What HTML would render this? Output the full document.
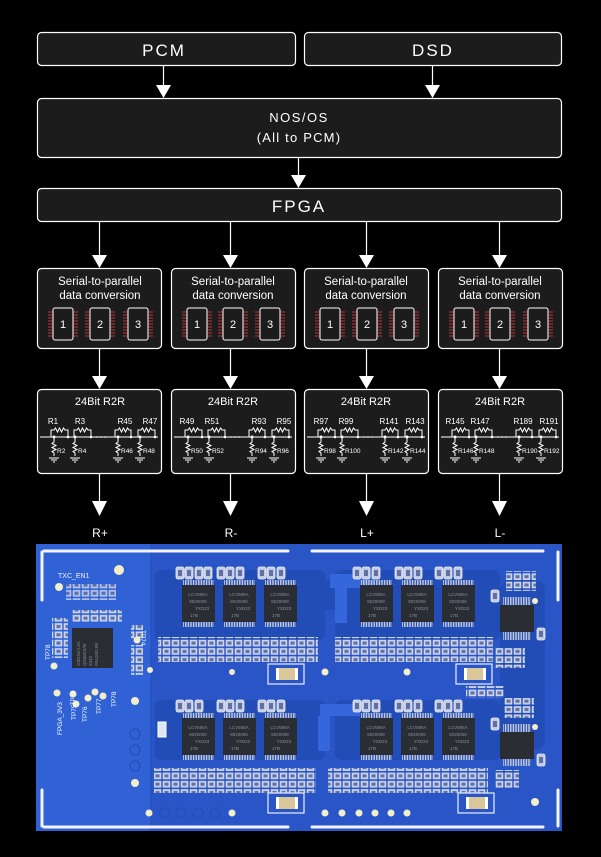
<!DOCTYPE html>
<html><head><meta charset="utf-8"><style>
html,body{margin:0;padding:0;background:#000;}
svg{display:block;}
text{font-family:"Liberation Sans","DejaVu Sans",sans-serif;fill:#fff;}
</style></head><body>
<svg width="601" height="857" viewBox="0 0 601 857" xmlns="http://www.w3.org/2000/svg">
<defs>
  <symbol id="ic" overflow="visible">
    <g stroke="#b8323c" stroke-width="1">
      <path d="M-5,4h5M-5,7h5M-5,10h5M-5,13h5M-5,16h5M-5,19h5M-5,22h5M-5,25h5M-5,28h5"/>
      <path d="M20,4h5M20,7h5M20,10h5M20,13h5M20,16h5M20,19h5M20,22h5M20,25h5M20,28h5"/>
    </g>
    <rect x="0" y="0" width="20" height="32" rx="2" fill="#1c1c1c" stroke="#fff" stroke-width="1"/>
  </symbol>
  <symbol id="r2r" overflow="visible">
    <g stroke="#fff" stroke-width="1" fill="none">
      <path d="M3,437H121"/>
      <path d="M14,437v-7h3l1.5,-2l2,4l2,-4l2,4l2,-4l1.5,2h3v7"/>
      <path d="M37,437v-7h3l1.5,-2l2,4l2,-4l2,4l2,-4l1.5,2h3v7"/>
      <path d="M78,437v-7h3l1.5,-2l2,4l2,-4l2,4l2,-4l1.5,2h2v7"/>
      <path d="M101,437v-7h3l1.5,-2l2,4l2,-4l2,4l2,-4l1.5,2h3v7"/>
      <path d="M17,437v5l-2,1.5l4,2l-4,2l4,2l-4,2l2,1.5v3M12,458h10M14,460h6M16,462h2"/>
      <path d="M38,437v5l-2,1.5l4,2l-4,2l4,2l-4,2l2,1.5v3M33,458h10M35,460h6M37,462h2"/>
      <path d="M81,437v5l-2,1.5l4,2l-4,2l4,2l-4,2l2,1.5v3M76,458h10M78,460h6M80,462h2"/>
      <path d="M103,437v5l-2,1.5l4,2l-4,2l4,2l-4,2l2,1.5v3M98,458h10M100,460h6M102,462h2"/>
    </g>
    <g fill="#fff"><circle cx="17" cy="437" r="1.5"/><circle cx="38" cy="437" r="1.5"/><circle cx="81" cy="437" r="1.5"/><circle cx="103" cy="437" r="1.5"/>
    <circle cx="31" cy="437" r="1.3"/><circle cx="54" cy="437" r="1.3"/><circle cx="94" cy="437" r="1.3"/><circle cx="118" cy="437" r="1.3"/>
    <circle cx="60" cy="437" r="0.8"/><circle cx="64" cy="437" r="0.8"/><circle cx="68" cy="437" r="0.8"/></g>
  </symbol>
  <pattern id="pads" width="9" height="8.3" patternUnits="userSpaceOnUse">
    <rect x="1" y="1" width="7" height="6" fill="#c4cbe0" stroke="#e8ecf6" stroke-width="0.5"/>
    <rect x="2.5" y="2.5" width="4" height="3" fill="#5f70a6"/>
  </pattern>
  <pattern id="pins" width="2.6" height="6" patternUnits="userSpaceOnUse">
    <rect x="0.5" y="0" width="1.4" height="6" fill="#c9cdd6"/>
  </pattern>
  <symbol id="bchip" overflow="visible">
    <rect x="1" y="-5" width="31" height="5" fill="url(#pins)"/>
    <rect x="1" y="37" width="31" height="5" fill="url(#pins)"/>
    <rect x="0" y="0" width="33" height="37" fill="#2b2d35"/>
    <text x="16" y="11" font-size="4.5" style="fill:#8a8d98" text-anchor="middle">LCV595A</text>
    <text x="16" y="18" font-size="4.5" style="fill:#8a8d98" text-anchor="middle">8020008</text>
    <text x="20" y="25" font-size="4.5" style="fill:#8a8d98" text-anchor="middle">YXD23</text>
    <text x="12" y="32" font-size="4.5" style="fill:#8a8d98" text-anchor="middle">17B</text>
  </symbol>
  <symbol id="smd" overflow="visible">
    <rect x="0" y="0" width="8" height="12" rx="2" fill="#c4cbe0" stroke="#e8ecf6" stroke-width="0.8"/>
    <rect x="2" y="3" width="4" height="6" fill="#5f70a6"/>
  </symbol>
  <symbol id="btn" overflow="visible">
    <rect x="0" y="0" width="36" height="20" fill="none" stroke="#e8ecf5" stroke-width="1.2"/>
    <rect x="8" y="4" width="22" height="12" fill="#fff"/>
    <rect x="11" y="4" width="16" height="12" fill="#d9c79a"/>
  </symbol>
</defs>

<g stroke="#fff" stroke-width="1.2" fill="#1c1c1c">
  <rect x="37.5" y="32.5" width="258" height="33" rx="4"/>
  <rect x="304.5" y="32.5" width="257" height="33" rx="4"/>
  <rect x="37.5" y="98.5" width="524" height="59" rx="4"/>
  <rect x="37.5" y="188.5" width="524" height="33" rx="4"/>
</g>
<text x="164" y="56" font-size="17" text-anchor="middle" letter-spacing="2">PCM</text>
<text x="433" y="56" font-size="17" text-anchor="middle" letter-spacing="2">DSD</text>
<text x="299" y="122" font-size="13" text-anchor="middle" letter-spacing="1.5">NOS/OS</text>
<text x="299" y="142" font-size="13" text-anchor="middle" letter-spacing="1.2">(All to PCM)</text>
<text x="299" y="212" font-size="17" text-anchor="middle" letter-spacing="2">FPGA</text>

<g stroke="#fff" stroke-width="1.2">
  <path d="M163.5,66v20M432.5,66v20M298.5,158v18M99.5,222v34M230.5,222v34M366.5,222v34M499.5,222v34"/>
  <path d="M99.5,349v28M230.5,349v28M366.5,349v28M499.5,349v28"/>
  <path d="M99.5,474v28M230.5,474v28M366.5,474v28M499.5,474v28"/>
</g>
<g fill="#fff">
  <path d="M156,85h15l-7.5,13z"/><path d="M425,85h15l-7.5,13z"/>
  <path d="M291,175h15l-7.5,13z"/>
  <path d="M92,255h15l-7.5,13z"/><path d="M223,255h15l-7.5,13z"/><path d="M359,255h15l-7.5,13z"/><path d="M492,255h15l-7.5,13z"/>
  <path d="M92,376h15l-7.5,13z"/><path d="M223,376h15l-7.5,13z"/><path d="M359,376h15l-7.5,13z"/><path d="M492,376h15l-7.5,13z"/>
  <path d="M92,501h15l-7.5,15z"/><path d="M223,501h15l-7.5,15z"/><path d="M359,501h15l-7.5,15z"/><path d="M492,501h15l-7.5,15z"/>
</g>
<g font-size="12" text-anchor="middle">
  <text x="100" y="537">R+</text><text x="231" y="537">R-</text><text x="367" y="537">L+</text><text x="500" y="537">L-</text>
</g>

<g stroke="#fff" stroke-width="1.2" fill="#1c1c1c">
  <rect x="37.5" y="268.5" width="124" height="80" rx="4"/>
  <rect x="171.5" y="268.5" width="124" height="80" rx="4"/>
  <rect x="304.5" y="268.5" width="124" height="80" rx="4"/>
  <rect x="438.5" y="268.5" width="124" height="80" rx="4"/>
</g>
<g font-size="11.5" text-anchor="middle">
  <text x="100" y="285">Serial-to-parallel</text><text x="100" y="299">data conversion</text>
  <text x="233" y="285">Serial-to-parallel</text><text x="233" y="299">data conversion</text>
  <text x="366" y="285">Serial-to-parallel</text><text x="366" y="299">data conversion</text>
  <text x="500" y="285">Serial-to-parallel</text><text x="500" y="299">data conversion</text>
</g>
<g>
  <use href="#ic" x="53" y="308"/><use href="#ic" x="90" y="308"/><use href="#ic" x="128" y="308"/>
  <use href="#ic" x="187" y="308"/><use href="#ic" x="223" y="308"/><use href="#ic" x="260" y="308"/>
  <use href="#ic" x="320" y="308"/><use href="#ic" x="357" y="308"/><use href="#ic" x="394" y="308"/>
  <use href="#ic" x="454" y="308"/><use href="#ic" x="490" y="308"/><use href="#ic" x="528" y="308"/>
</g>
<g font-size="11" text-anchor="middle">
  <text x="63" y="328">1</text><text x="100" y="328">2</text><text x="138" y="328">3</text>
  <text x="197" y="328">1</text><text x="233" y="328">2</text><text x="270" y="328">3</text>
  <text x="330" y="328">1</text><text x="367" y="328">2</text><text x="404" y="328">3</text>
  <text x="464" y="328">1</text><text x="500" y="328">2</text><text x="538" y="328">3</text>
</g>

<g stroke="#fff" stroke-width="1.2" fill="#1c1c1c">
  <rect x="37.5" y="389.5" width="124" height="84" rx="4"/>
  <rect x="171.5" y="389.5" width="124" height="84" rx="4"/>
  <rect x="304.5" y="389.5" width="124" height="84" rx="4"/>
  <rect x="438.5" y="389.5" width="124" height="84" rx="4"/>
</g>
<g font-size="11" text-anchor="middle">
  <text x="100" y="405">24Bit R2R</text><text x="233" y="405">24Bit R2R</text><text x="366" y="405">24Bit R2R</text><text x="500" y="405">24Bit R2R</text>
</g>
<use href="#r2r" x="37" y="0"/><use href="#r2r" x="171" y="0"/><use href="#r2r" x="304" y="0"/><use href="#r2r" x="438" y="0"/>
<g font-size="8" text-anchor="middle">
  <text x="53" y="424">R1</text><text x="80" y="424">R3</text><text x="125" y="424">R45</text><text x="150" y="424">R47</text>
  <text x="187" y="424">R49</text><text x="212" y="424">R51</text><text x="259" y="424">R93</text><text x="284" y="424">R95</text>
  <text x="321" y="424">R97</text><text x="346" y="424">R99</text><text x="389" y="424">R141</text><text x="415" y="424">R143</text>
  <text x="455" y="424">R145</text><text x="480" y="424">R147</text><text x="523" y="424">R189</text><text x="549" y="424">R191</text>
</g>
<g font-size="6.5">
  <text x="57" y="453">R2</text><text x="78" y="453">R4</text><text x="121" y="453">R46</text><text x="143" y="453">R48</text>
  <text x="191" y="453">R50</text><text x="212" y="453">R52</text><text x="255" y="453">R94</text><text x="277" y="453">R96</text>
  <text x="324" y="453">R98</text><text x="345" y="453">R100</text><text x="388" y="453">R142</text><text x="410" y="453">R144</text>
  <text x="458" y="453">R146</text><text x="479" y="453">R148</text><text x="522" y="453">R190</text><text x="544" y="453">R192</text>
</g>

<!-- PCB -->
<rect x="36" y="544" width="526" height="287" fill="#2a55c6"/>
<rect x="36" y="544" width="115" height="287" fill="#3062d6"/>
<path d="M151,544V831" stroke="#2250b8" stroke-width="1"/>
<g fill="#234db6">
  <rect x="155" y="570" width="170" height="70" rx="6"/>
  <rect x="335" y="570" width="165" height="70" rx="6"/>
  <rect x="155" y="700" width="170" height="60" rx="6"/>
  <rect x="335" y="700" width="165" height="60" rx="6"/>
  <rect x="310" y="580" width="25" height="30"/>
  <rect x="500" y="580" width="45" height="170" rx="10"/>
</g>
<g fill="#3666dc">
  <rect x="330" y="574" width="45" height="14"/><rect x="335" y="588" width="12" height="35"/>
  <rect x="320" y="704" width="40" height="12"/><rect x="318" y="716" width="12" height="35"/>
</g>
<g stroke="#f2f4fa" stroke-width="3" stroke-linecap="round">
  <path d="M44,551H288M312,551H543M44,827H288M312,827H543"/>
  <path d="M42,552V600M42,790V826M558,552V600M558,790V826"/>
</g>
<use href="#bchip" x="182" y="585"/><use href="#bchip" x="223" y="585"/><use href="#bchip" x="264" y="585"/>
<use href="#bchip" x="360" y="585"/><use href="#bchip" x="401" y="585"/><use href="#bchip" x="442" y="585"/>
<use href="#bchip" x="182" y="718"/><use href="#bchip" x="223" y="718"/><use href="#bchip" x="264" y="718"/>
<use href="#bchip" x="360" y="718"/><use href="#bchip" x="401" y="718"/><use href="#bchip" x="442" y="718"/>
<rect x="158" y="637" width="160" height="25" fill="url(#pads)"/>
<rect x="335" y="637" width="158" height="25" fill="url(#pads)"/>
<rect x="154" y="768" width="162" height="25" fill="url(#pads)"/>
<rect x="328" y="768" width="160" height="25" fill="url(#pads)"/>
<g>
  <use href="#smd" x="176" y="567"/><use href="#smd" x="185" y="567"/><use href="#smd" x="195" y="567"/><use href="#smd" x="204" y="567"/>
  <use href="#smd" x="217" y="567"/><use href="#smd" x="226" y="567"/><use href="#smd" x="236" y="567"/>
  <use href="#smd" x="258" y="567"/><use href="#smd" x="267" y="567"/><use href="#smd" x="277" y="567"/>
  <use href="#smd" x="353" y="567"/><use href="#smd" x="362" y="567"/><use href="#smd" x="372" y="567"/>
  <use href="#smd" x="395" y="567"/><use href="#smd" x="404" y="567"/><use href="#smd" x="414" y="567"/>
  <use href="#smd" x="435" y="567"/><use href="#smd" x="444" y="567"/><use href="#smd" x="454" y="567"/>
  <use href="#smd" x="176" y="700"/><use href="#smd" x="185" y="700"/><use href="#smd" x="195" y="700"/>
  <use href="#smd" x="217" y="700"/><use href="#smd" x="226" y="700"/><use href="#smd" x="236" y="700"/>
  <use href="#smd" x="258" y="700"/><use href="#smd" x="267" y="700"/><use href="#smd" x="277" y="700"/>
  <use href="#smd" x="353" y="700"/><use href="#smd" x="362" y="700"/><use href="#smd" x="372" y="700"/>
  <use href="#smd" x="395" y="700"/><use href="#smd" x="404" y="700"/><use href="#smd" x="414" y="700"/>
  <use href="#smd" x="435" y="700"/><use href="#smd" x="444" y="700"/><use href="#smd" x="454" y="700"/>
</g>
<use href="#btn" x="268" y="664"/><use href="#btn" x="456" y="664"/>
<use href="#btn" x="268" y="793"/><use href="#btn" x="458" y="793"/>
<g>
  <rect x="503" y="597" width="28" height="8" fill="url(#pins)"/><rect x="503" y="632" width="28" height="8" fill="url(#pins)"/>
  <rect x="500" y="605" width="34" height="27" fill="#2b2d35"/>
  <rect x="503" y="724" width="28" height="8" fill="url(#pins)"/><rect x="503" y="758" width="28" height="8" fill="url(#pins)"/>
  <rect x="500" y="732" width="34" height="27" fill="#2b2d35"/>
  <use href="#smd" x="491" y="590"/><use href="#smd" x="537" y="628"/><use href="#smd" x="491" y="718"/><use href="#smd" x="537" y="754"/>
  <rect x="506" y="571" width="30" height="20" fill="url(#pads)"/>
  <rect x="495" y="648" width="30" height="20" fill="url(#pads)"/>
  <rect x="504" y="698" width="30" height="20" fill="url(#pads)"/>
  <rect x="495" y="770" width="24" height="18" fill="url(#pads)"/>
  <rect x="466" y="686" width="38" height="12" fill="url(#pads)"/>
</g>
<rect x="72" y="628" width="41" height="40" fill="#2b2d35"/>
<g font-size="4.5" transform="translate(80,666) rotate(-90)">
  <text x="0" y="0" style="fill:#8a8d98">CW1N2-LV1</text><text x="0" y="6" style="fill:#8a8d98">QN48C5/I5</text><text x="0" y="12" style="fill:#8a8d98">2342</text><text x="0" y="18" style="fill:#8a8d98">PKU592.00</text>
</g>
<rect x="72" y="610" width="50" height="12" fill="url(#pads)"/>
<rect x="52" y="618" width="16" height="40" fill="url(#pads)"/>
<rect x="131" y="625" width="12" height="14" fill="url(#pads)"/>
<rect x="131" y="645" width="12" height="30" fill="url(#pads)"/>
<rect x="66" y="584" width="50" height="16" fill="url(#pads)" opacity="0.85"/>
<g fill="#f2eec8">
  <circle cx="59" cy="587" r="4"/><circle cx="119" cy="570" r="5"/><circle cx="137" cy="640" r="3.5"/>
  <circle cx="54" cy="666" r="3.5"/><circle cx="57" cy="693" r="3.5"/><circle cx="73" cy="694" r="3.5"/><circle cx="76" cy="704" r="3.5"/>
  <circle cx="88" cy="698" r="3.5"/><circle cx="95" cy="692" r="3.5"/><circle cx="103" cy="696" r="3.5"/>
  <circle cx="135" cy="701" r="4"/><circle cx="150" cy="670" r="3"/><circle cx="232" cy="672" r="3"/>
  <circle cx="135" cy="783" r="4"/><circle cx="149" cy="813" r="3.5"/><circle cx="232" cy="813" r="3.5"/>
  <circle cx="325" cy="672" r="3.5"/><circle cx="325" cy="813" r="3.5"/><circle cx="342" cy="813" r="3.5"/>
  <circle cx="359" cy="813" r="3.5"/><circle cx="375" cy="813" r="3.5"/><circle cx="391" cy="813" r="3.5"/><circle cx="407" cy="813" r="3.5"/>
  <circle cx="535" cy="802" r="4"/><circle cx="535" cy="601" r="3"/><circle cx="535" cy="727" r="3"/><circle cx="407" cy="672" r="3.5"/>
</g>
<g fill="none" stroke="#2250b8" stroke-width="1.2">
  <circle cx="165" cy="813" r="5"/><circle cx="181" cy="813" r="5"/><circle cx="198" cy="813" r="5"/><circle cx="215" cy="813" r="5"/>
  <circle cx="135" cy="750" r="5"/><circle cx="135" cy="766" r="5"/><circle cx="135" cy="734" r="5"/>
</g>
<rect x="158" y="722" width="8" height="15" fill="#dfe5f2" stroke="#fff"/>
<text x="58" y="578" font-size="7" style="fill:#f2f4fa">TXC_EN1</text>
<g font-size="6.5">
  <text transform="translate(50,660) rotate(-90)">TP78</text>
  <text transform="translate(141,630) rotate(90)">TP74</text>
  <text transform="translate(62,735) rotate(-90)">FPGA_3V3</text>
  <text transform="translate(76,720) rotate(-90)">TP75</text>
  <text transform="translate(75,705) rotate(-90)" font-size="6">TP74</text>
  <text transform="translate(87,722) rotate(-90)">TP76</text>
  <text transform="translate(101,714) rotate(-90)">TP77</text>
  <text transform="translate(116,707) rotate(-90)">TP78</text>
</g>
</svg>
</body></html>
